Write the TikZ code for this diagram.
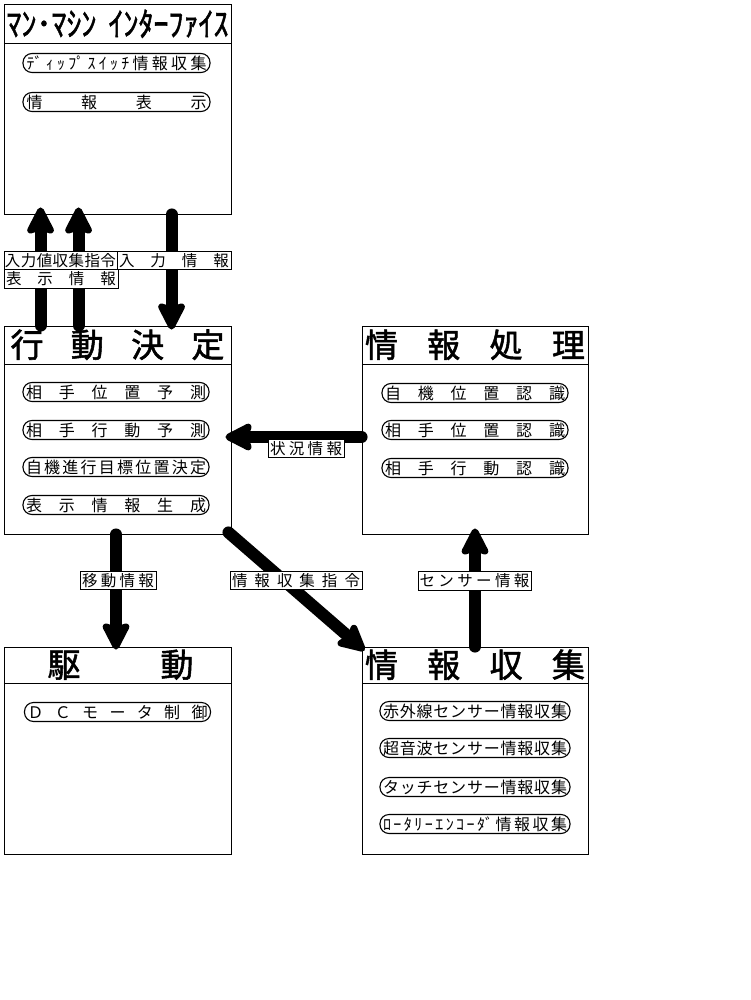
\documentclass[tikz,border=0pt]{standalone}
\usepackage{fontspec}
\setmainfont{Noto Sans CJK JP}
\newfontfamily\tfont[FakeBold=1.6]{Noto Sans CJK JP}
\usetikzlibrary{arrows.meta}
\def\spr#1{\sprA#1\relax}
\def\sprA#1#2{#1\ifx\relax#2\else\hfill\expandafter\sprA\expandafter#2\fi}
\begin{document}
\begin{tikzpicture}[x=1pt,y=-1pt,
  box/.style={draw, line width=0.9pt, inner sep=0pt},
  titlebox/.style={inner sep=0pt, anchor=north, font=\tfont\fontsize{33}{33}\selectfont},
  pill/.style={draw, line width=1.1pt, rounded corners=9pt, minimum height=19pt, inner sep=0pt, font=\fontsize{16}{16}\selectfont},
  lab/.style={draw, fill=white, line width=0.7pt, inner sep=0pt, minimum height=18.5pt, font=\fontsize{15.5}{16}\selectfont},
  bigarrow/.style={line width=12pt, line cap=round, -{Stealth[length=32pt,width=32pt,inset=5pt,round]}}
]
\useasboundingbox[fill=white] (0,0) rectangle (750,1000);

% ---------- boxes ----------
\node[box, minimum width=227pt, minimum height=210pt] (mmi) at (117.5,109) {};
\node[box, minimum width=227pt, minimum height=208pt] (kd) at (117.5,430) {};
\node[box, minimum width=226pt, minimum height=208pt] (jp) at (475,430) {};
\node[box, minimum width=227pt, minimum height=207pt] (kudo) at (117.5,750.5) {};
\node[box, minimum width=226pt, minimum height=207pt] (js) at (475,750.5) {};

% ---------- titles ----------
\node[titlebox, minimum width=227pt, minimum height=40pt, font=\tfont\fontsize{30}{30}\selectfont] (mmiT) at (mmi.north) {\scalebox{1}[1.1]{\hbox to 222pt{ﾏﾝ･ﾏｼﾝ\hfill ｲﾝﾀｰﾌｧｲｽ}}};
\draw[line width=0.9pt] (mmiT.south west) -- (mmiT.south east);
\node[titlebox, minimum width=227pt, minimum height=38pt] (kdT) at (kd.north) {\hbox to 214pt{\spr{行動決定}}\hspace{8pt}};
\draw[line width=0.9pt] (kdT.south west) -- (kdT.south east);
\node[titlebox, minimum width=226pt, minimum height=38pt] (jpT) at (jp.north) {\hbox to 220pt{\spr{情報処理}}};
\draw[line width=0.9pt] (jpT.south west) -- (jpT.south east);
\node[titlebox, minimum width=227pt, minimum height=36pt] (kudoT) at (kudo.north) {\hspace{6pt}\hbox to 146pt{駆\hfill 動}};
\draw[line width=0.9pt] (kudoT.south west) -- (kudoT.south east);
\node[titlebox, minimum width=226pt, minimum height=36pt] (jsT) at (js.north) {\hbox to 220pt{\spr{情報収集}}};
\draw[line width=0.9pt] (jsT.south west) -- (jsT.south east);

% ---------- pills ----------
\node[pill, minimum width=187pt] (mmiP1) at (116.5,63) {\hbox to 180pt{ﾃﾞ\hfill ｨ\hfill ｯ\hfill ﾌﾟ\hfill ｽ\hfill ｲ\hfill ｯ\hfill ﾁ\hfill 情\hfill 報\hfill 収\hfill 集}};
\node[pill, minimum width=187pt] (mmiP2) at (116.5,102) {\hbox to 180pt{\spr{情報表示}}};

\node[pill, minimum width=186pt] (kdP1) at (116,392) {\hbox to 180pt{\spr{相手位置予測}}};
\node[pill, minimum width=186pt] (kdP2) at (116,430) {\hbox to 180pt{\spr{相手行動予測}}};
\node[pill, minimum width=186pt] (kdP3) at (116,467) {\hbox to 180pt{\spr{自機進行目標位置決定}}};
\node[pill, minimum width=186pt] (kdP4) at (116,505) {\hbox to 180pt{\spr{表示情報生成}}};

\node[pill, minimum width=186pt] (jpP1) at (475,393) {\hbox to 180pt{\spr{自機位置認識}}};
\node[pill, minimum width=186pt] (jpP2) at (475,430) {\hbox to 180pt{\spr{相手位置認識}}};
\node[pill, minimum width=186pt] (jpP3) at (475,468) {\hbox to 180pt{\spr{相手行動認識}}};

\node[pill, minimum width=186pt] (kudoP1) at (117.5,712) {\hbox to 180pt{\spr{ＤＣモータ制御}}};

\node[pill, minimum width=190pt] (jsP1) at (475,711) {\hbox to 184pt{\spr{赤外線センサー情報収集}}};
\node[pill, minimum width=190pt] (jsP2) at (475,748) {\hbox to 184pt{\spr{超音波センサー情報収集}}};
\node[pill, minimum width=190pt] (jsP3) at (475,787) {\hbox to 184pt{\spr{タッチセンサー情報収集}}};
\node[pill, minimum width=190pt] (jsP4) at (475,824) {\hbox to 184pt{ﾛ\hfill ｰ\hfill ﾀ\hfill ﾘ\hfill ｰ\hfill ｴ\hfill ﾝ\hfill ｺ\hfill ｰ\hfill ﾀﾞ\hfill 情\hfill 報\hfill 収\hfill 集}};

% ---------- arrow end points ----------
\coordinate (a1s) at ([xshift=37pt]kd.north west);
\coordinate (a1e) at ([xshift=37pt,yshift=7pt]mmi.south west);
\coordinate (a2s) at ([xshift=75pt]kd.north west);
\coordinate (a2e) at ([xshift=75pt,yshift=7pt]mmi.south west);
\coordinate (a3s) at ([xshift=168pt]mmi.south west);
\coordinate (a3e) at ([xshift=168pt,yshift=-4pt]kd.north west);
\coordinate (a4s) at ([xshift=0pt,yshift=-7pt]jp.west);
\coordinate (a4e) at ([xshift=-6pt,yshift=-7pt]kd.east);
\coordinate (a5s) at ([xshift=-1.5pt]kd.south);
\coordinate (a5e) at ([xshift=-1.5pt,yshift=-3pt]kudo.north);
\coordinate (a6s) at ([xshift=-3pt,yshift=2pt]kd.south east);
\coordinate (a6e) at ([xshift=3pt,yshift=-4pt]js.north west);
\coordinate (a7s) at (js.north);
\coordinate (a7e) at ([yshift=6pt]jp.south);

% ---------- arrows ----------
\draw[bigarrow] (a1s) -- (a1e);
\draw[bigarrow] (a2s) -- (a2e);
\draw[bigarrow] (a3s) -- (a3e);
\draw[bigarrow] (a4s) -- (a4e);
\draw[bigarrow] (a5s) -- (a5e);
\draw[bigarrow] (a6s) -- (a6e);
\draw[bigarrow] (a7s) -- (a7e);

% ---------- labels ----------
\node[lab, minimum width=113pt] (l1) at (60.5,260.5) {\hbox to 111pt{\spr{入力値収集指令}}};
\node[lab, minimum width=114pt] (l2) at (174,260.5) {\hbox to 110pt{\spr{入力情報}}};
\node[lab, minimum width=114pt] (l3) at (61,279) {\hbox to 110pt{\spr{表示情報}}};
\node[lab, minimum width=76pt] (l4) at (306,448.5) {\hbox to 72pt{\spr{状況情報}}};
\node[lab, minimum width=76pt] (l5) at (118,580.5) {\hbox to 72pt{\spr{移動情報}}};
\node[lab, minimum width=132pt] (l6) at (296,580.5) {\hbox to 128pt{\spr{情報収集指令}}};
\node[lab, minimum width=113pt] (l7) at (474.5,581) {\hbox to 110pt{\spr{センサー情報}}};
\end{tikzpicture}
\end{document}
